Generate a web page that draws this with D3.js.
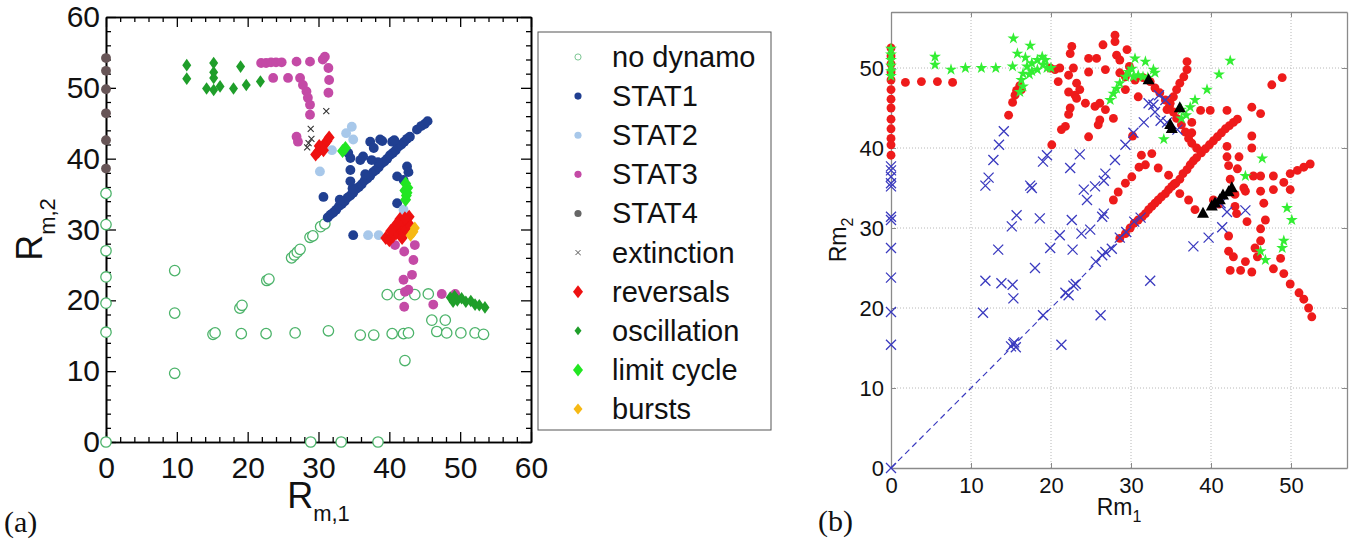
<!DOCTYPE html>
<html><head><meta charset="utf-8">
<script src="https://cdn.jsdelivr.net/npm/d3@7"></script>
<style>body{margin:0;background:#fff;}svg{display:block;}</style>
</head><body><svg id="c" width="1354" height="540"></svg>
<script>
// ---------- Panel (a) data ----------
const aMajorTicks=[0,10,20,30,40,50,60];
const aMinorTicks=[2,4,6,8,12,14,16,18,22,24,26,28,32,34,36,38,42,44,46,48,52,54,56,58];
const legendLabels=["no dynamo","STAT1","STAT2","STAT3","STAT4","extinction","reversals","oscillation","limit cycle","bursts"];
const noDynamo=[[0,0],[0,15.5],[0,19.6],[0,23.3],[0,27],[0,30.7],[0,35.1],[28.9,0],[33.2,0],[38.4,0],
[9.7,24.2],[9.7,18.2],[9.7,9.7],[18.9,18.9],[19.2,19.3],[22.7,22.8],[23.0,23.0],[26.2,26.0],[26.6,26.4],[27.0,26.8],[27.4,27.2],[28.8,28.9],[29.2,29.1],[30.3,30.4],[30.9,30.8],
[15.1,15.2],[15.4,15.4],[19.1,15.3],[22.6,15.3],[26.7,15.4],[31.4,15.7],[35.9,15.1],[37.8,15.1],[40.4,15.3],[42.0,15.3],[42.7,15.4],[46.7,15.6],[48.1,15.4],[50.1,15.4],[52.1,15.4],[53.3,15.2],
[42.2,11.5],[39.7,20.8],[41.4,20.8],[43.6,20.8],[45.5,20.9],[46.0,17.2],[47.9,17.2]];
const stat1=[[31.3,31.7],[31.7,32.1],[32.1,32.4],[32.5,32.8],[32.9,33.3],[33.3,33.6],[33.7,34.0],[34.1,34.5],[34.5,34.8],[34.9,35.2],[35.3,35.7],[35.7,36.0],[36.1,36.4],[36.5,36.9],[36.9,37.2],[37.3,37.6],[37.7,38.1],[38.1,38.4],[38.5,38.8],[38.9,39.3],[39.3,39.6],[39.7,40.0],[40.1,40.5],[40.5,40.8],[40.9,41.2],[41.3,41.7],[41.7,42.0],[42.1,42.4],[42.5,42.8],[42.9,43.1],
[33.0,34.2],[34.8,35.8],[36.6,37.8],[38.4,39.5],
[43.9,44.1],[44.5,44.6],[45.0,44.9],[45.4,45.3],
[40.4,42.4],[38.7,42.7],[37.3,42.4],[37.8,41.5],[35.9,39.8],[34.5,40.1],[34.2,40.8],[36.3,40.3],[34.5,38.4],[34.5,36.8],[30.7,34.6],[34.9,29.2],[42.5,38.9],[42.7,38.1],[41.1,37.5],[41.1,33.7],[42.0,37.0],[40.7,42.6],[39.0,42.5],[37.5,39.8]];
const stat2=[[34.7,44.5],[34.9,42.7],[31.9,41.2],[30.2,38.2],[37.0,29.2],[38.5,29.2],[42.0,32.8],[33.9,43.6]];
const stat3=[[21.9,53.5],[22.6,53.5],[23.3,53.6],[24.0,53.6],[24.8,53.6],[26.9,53.7],[28.8,53.7],[30.6,54.0],[30.9,54.4],[31.4,52.8],[31.5,51.1],[31.4,49.3],
[23.6,51.4],[25.7,51.4],[27.4,51.4],[27.8,50.4],[28.3,49.5],[28.5,48.6],[28.8,47.6],[28.8,46.2],[26.9,43.1],[27.1,42.4],
[40.8,27.8],[42.1,26.9],[43.6,27.8],[43.4,25.7],[42.0,22.9],[43.2,23.6],[42.2,21.2],[42.7,21.5],[42.1,19.1],[46.2,19.4],[47.4,20.9],[49.3,20.9]];
const stat4=[[0,54.2],[0,52.4],[0,49.8],[0,46.4],[0,42.6],[0,38.6]];
const extinction=[[31.1,46.7],[28.9,44.2],[29.0,42.8],[28.4,41.6],[28.6,42.2]];
const reversals=[[29.6,40.6],[30.0,41.0],[30.4,41.5],[30.8,42.0],[31.2,42.5],[31.5,43.0],[30.1,41.8],[30.7,41.2],
[39.5,28.8],[40.0,28.5],[40.5,29.0],[41.0,29.5],[41.5,30.0],[42.0,30.5],[42.5,31.0],[42.8,31.8],[41.5,31.5],[40.8,30.5],[42.0,29.5],[40.2,29.8],[41.8,28.8],[42.4,30.0],[43.0,30.5],[41.2,30.9],[42.2,31.6]];
const oscillation=[[11.4,53.2],[11.4,51.3],[15.2,53.5],[15.2,51.4],[14.2,49.9],[15.2,49.7],[16.1,50.2],[18.0,49.9],[19.0,53.0],[19.8,50.4],[21.8,50.9],[15.2,52.2],
[48.6,20.4],[49.2,20.6],[49.6,20.0],[50.2,20.3],[50.8,19.8],[51.5,19.9],[52.1,19.4],[52.7,19.3],[53.5,19.0],[49.0,19.8]];
const limitCycle=[[33.4,41.1],[33.8,41.5],[42.3,36.5],[42.2,35.5],[42.4,34.8],[42.3,34.2],[42.6,35.9],[42.5,35.2]];
const bursts=[[43.4,29.7],[43.0,29.2],[43.6,30.2]];

// ---------- Panel (b) data ----------
const bTicks=[0,10,20,30,40,50];
const bGrid=[10,20,30,40,50];
const bRed=[[0,52.5],[0,51.5],[0,50.5],[0,49.5],[0,48.5],[0,47.3],[0,46.1],[0,45.0],[0,43.6],[0,42.4],[0,41.2],[0,40.4],[0,39.1],
[1.8,48.2],[3.8,48.3],[5.8,48.3],[7.7,48.2],
[14.7,44.1],[15.2,45.7],[15.5,46.6],[15.7,47.2],[16.3,47.3],[16.1,47.8],
[20.1,40.4],[19.9,50.0],[20.5,49.8],[21.1,50.0],[20.9,48.3],[22.2,49.1],[22.4,51.8],[22.6,52.7],[22.8,50.0],[22.2,47.0],[23.0,46.6],[23.2,46.2],[22.4,45.0],[22.2,44.2],[21.3,42.3],[21.8,42.7],[23.2,48.1],[23.6,47.3],[24.7,51.2],[24.7,49.5],[24.3,45.6],[24.7,41.4],[25.7,51.2],[25.5,45.2],[26.1,45.6],[26.5,52.9],[26.8,49.8],[26.8,44.8],[26.1,43.5],[25.9,42.9],[27.8,43.7],[28.0,54.1],[28.0,53.3],[28.2,51.6],[28.6,51.0],[29.5,52.3],[28.6,49.4],[29.3,48.9],[29.3,47.3],
[30.9,46.4],[30.2,41.5],[30.5,48.5],[31.5,48.8],[29.8,50.2],
[32.4,48.3],[33.0,47.5],[33.6,46.9],[34.3,46.0],[34.8,45.2],[35.3,44.5],[35.7,43.7],[36.3,42.9],[36.8,42.0],[37.2,41.2],[37.6,40.6],[38.2,40.0],[38.7,39.6],
[34.5,44.8],[34.9,45.6],[35.3,46.4],[35.7,47.3],[36.1,48.1],[36.6,48.9],[37.0,49.8],[37.0,50.8],
[38.7,44.7],[39.9,44.7],[42.0,44.7],[37.6,43.2],[37.6,41.9],
[31.3,39.1],[32.6,39.3],[31.8,37.9],[31.0,37.6],[30.1,36.4],[29.3,35.6],[28.4,34.5],[27.8,33.5],
[33.4,37.5],[34.7,36.6],[35.4,35.5],[36.1,34.3],[37.2,33.5],[38.0,32.3],
[28.6,28.7],[29.3,29.3],[29.9,30.0],[30.4,30.6],[30.9,31.0],[31.4,31.4],[31.8,31.8],[32.2,32.3],[32.6,32.7],[33.0,33.1],[33.4,33.5],[33.8,33.9],[34.3,34.3],[34.7,34.8],[35.1,35.2],[35.6,35.6],[36.1,36.1],[36.5,36.8],[37.0,37.3],[37.4,37.9],[37.8,38.4],[38.2,38.8],[38.8,39.4],[39.3,39.9],[39.8,40.4],[40.3,40.9],[40.8,41.4],[41.3,41.9],[41.8,42.4],[42.3,42.8],[42.8,43.2],[43.3,43.6],
[42.0,40.2],[42.0,38.9],[42.2,37.8],[42.4,36.1],[43.0,34.2],[43.0,32.7],[43.5,38.9],[43.3,37.4],[44.1,35.0],[44.3,34.6],[45.3,36.5],[45.1,40.0],[45.1,41.5],[45.1,45.1],[46.2,44.3],[47.6,47.9],[48.9,48.8],
[46.2,36.5],[46.2,34.6],[46.6,33.1],[46.8,31.0],[46.2,29.9],[46.2,28.4],[45.5,27.5],[45.8,26.4],[45.1,24.5],[43.7,24.7],[42.4,24.7],[42.2,27.1],[42.8,26.4],[42.2,29.0],[43.2,31.8],[44.5,30.8],
[47.8,34.8],[47.8,36.5],[49.1,35.7],[49.9,36.8],[49.9,34.8],[50.8,37.2],[51.6,37.6],[52.4,38.0],
[48.7,26.2],[47.8,24.9],[49.1,24.3],[49.9,23.0],[51.0,21.9],[51.6,21.1],[52.2,20.0],[52.6,18.9],[44.3,25.8],[40.3,33.5],[41.0,33.0]];
const bGreen=[[0,52.4],[0,51.7],[0,51.0],[0,50.3],[0,49.6],[0,49.0],
[5.5,51.4],[5.5,50.4],[7.5,49.8],[9.3,50.0],[11.3,50.0],[13.1,50.0],[15.2,50.2],[15.3,53.7],[15.8,51.8],[17.4,52.8],[16.8,51.3],
[16.5,49.3],[16.3,48.5],[16.5,47.7],[16.1,47.0],[17.0,50.2],[17.6,50.6],[18.3,51.0],[18.9,51.4],[19.0,50.4],[18.3,49.8],[19.5,50.0],[17.6,49.6],[17.3,49.2],[19.3,51.0],[20.0,50.0],
[27.4,46.0],[27.8,46.8],[28.2,47.4],[28.6,48.1],[29.3,48.9],[29.7,49.5],[30.1,49.9],[30.5,51.2],[30.3,48.9],[30.9,49.1],[31.5,48.9],[31.8,50.8],[32.8,49.8],[33.0,49.4],[32.1,48.8],
[36.3,44.8],[36.3,43.7],[36.9,44.1],[37.4,45.1],[38.0,46.0],[39.5,47.3],[41.0,49.2],[42.4,50.9],[34.1,41.1],
[44.3,36.5],[46.4,38.7],[49.5,32.5],[50.1,31.0],[49.1,28.4],[48.9,27.5],[46.2,27.1],[46.8,26.0]];
const bBlue=[[0,0],[0,37.7],[0,37.2],[0,36.4],[0,35.6],[0,35.2],[0,31.4],[0,31.0],[0,27.5],[0,23.8],[0,19.5],[0,15.4],
[14.1,42.1],[13.5,40.4],[12.8,38.5],[12.2,36.3],[11.8,35.3],[15.7,31.6],[15.1,30.2],[13.4,27.3],[11.8,23.4],[13.8,23.1],[15.2,22.9],[15.3,21.2],[11.5,19.4],[17.6,35.0],[17.4,35.3],[18.6,31.2],[18.0,25.0],[19.0,38.3],[19.5,39.1],[19.9,27.5],[21.1,29.1],[21.3,15.4],[22.4,37.5],[22.6,31.0],[22.7,27.3],[23.6,39.2],[24.1,34.8],[24.5,33.5],[23.8,29.3],[24.9,29.8],[25.5,35.2],[26.6,35.9],[26.8,36.8],[26.6,31.8],[26.4,31.4],[28.0,38.5],[29.3,40.4],[30.3,41.9],[31.6,43.2],[32.2,45.6],[32.8,45.4],[33.5,46.6],[33.0,44.5],[33.7,43.4],[34.5,43.2],[35.8,42.3],[34.3,46.0],
[37.8,27.7],[39.7,28.8],[41.4,30.1],[42.0,32.0],[44.3,32.2],[41.2,33.1],[32.4,23.4],[26.2,19.1],
[15.0,15.2],[15.3,15.5],[15.6,15.1],[15.4,15.7],[19.0,19.1],[21.8,21.9],[22.2,21.6],[22.8,22.8],[23.1,23.0],[25.6,25.8],[26.4,26.6],[26.8,27.0],[27.6,27.4],[28.6,28.8],[29.4,29.5],[30.4,30.8],[31.2,31.3]];
const bBlack=[[32.2,48.5],[36.1,45.0],[34.9,42.9],[35.1,42.4],[39.0,31.8],[40.1,32.7],[40.5,33.1],[41.1,33.5],[41.5,34.1],[42.2,34.5],[42.6,35.0]];
const bDiag=[[0,0],[33,33]];

// ---------- drawing ----------
const SANS='"Liberation Sans", Arial, Helvetica, sans-serif';
const svg=d3.select('#c');
const diamond=(hw,hh)=>`M0,${-hh}L${hw},0L0,${hh}L${-hw},0Z`;
const cross=s=>`M${-s},${-s}L${s},${s}M${-s},${s}L${s},${-s}`;
const tri=(w,h)=>`M0,${-h*0.62}L${w},${h*0.38}L${-w},${h*0.38}Z`;

// Panel A
const xA=d3.scaleLinear().domain([0,60]).range([106,531]);
const yA=d3.scaleLinear().domain([0,60]).range([442,17]);
const gA=svg.append('g');

function styleAxis(g,color,fs,w){
  g.select('.domain').attr('stroke',color).attr('stroke-width',w);
  g.selectAll('.tick line').attr('stroke',color).attr('stroke-width',w*0.8);
  g.selectAll('.tick text').attr('fill','#111').style('font-family',SANS).style('font-size',fs+'px');
}
function axesA(){
  const defs=[
    ['b',d3.axisBottom(xA),`translate(0,${yA(0)})`,true],
    ['t',d3.axisTop(xA),`translate(0,${yA(60)})`,false],
    ['l',d3.axisLeft(yA),`translate(${xA(0)},0)`,true],
    ['r',d3.axisRight(yA),`translate(${xA(60)},0)`,false]];
  defs.forEach(([k,ax,tr,lab])=>{
    const gm=gA.append('g').attr('transform',tr).call(ax.tickValues(aMinorTicks).tickSize(-5).tickSizeOuter(0).tickFormat(''));
    styleAxis(gm,'#000',30,1.6);
    const ax2=(k==='b'?d3.axisBottom(xA):k==='t'?d3.axisTop(xA):k==='l'?d3.axisLeft(yA):d3.axisRight(yA));
    const g2=gA.append('g').attr('transform',tr).call(ax2.tickValues(aMajorTicks).tickSize(-10).tickSizeOuter(0)
      .tickPadding(k==='b'?15:6).tickFormat(lab?d3.format('d'):''));
    styleAxis(g2,'#000',30,1.6);
  });
}
axesA();

const ptsA=gA.append('g');
function drawA(data,fn){return ptsA.append('g').selectAll('path').data(data).join('path')
  .attr('transform',d=>`translate(${xA(d[0])},${yA(d[1])})`).call(fn);}
drawA(noDynamo,s=>s.attr('d',d3.symbol(d3.symbolCircle,85)).attr('fill','#fff').attr('stroke','#4cb36a').attr('stroke-width',1.3));
drawA(stat1,s=>s.attr('d',d3.symbol(d3.symbolCircle,76)).attr('fill','#203f91'));
drawA(stat2,s=>s.attr('d',d3.symbol(d3.symbolCircle,76)).attr('fill','#a8c8ea'));
drawA(stat3,s=>s.attr('d',d3.symbol(d3.symbolCircle,76)).attr('fill','#c44aa6'));
drawA(stat4,s=>s.attr('d',d3.symbol(d3.symbolCircle,76)).attr('fill','#675557'));
drawA(extinction,s=>s.attr('d',cross(3)).attr('fill','none').attr('stroke','#333').attr('stroke-width',1.1));
drawA(reversals,s=>s.attr('d',diamond(5.5,7)).attr('fill','#ee1111'));
drawA(oscillation,s=>s.attr('d',diamond(4.5,6.3)).attr('fill','#1f9e2a'));
drawA(limitCycle,s=>s.attr('d',diamond(5.5,7)).attr('fill','#22e622'));
drawA(bursts,s=>s.attr('d',diamond(5,6.5)).attr('fill','#f6b914'));

// Axis labels A
const xl=gA.append('text').attr('x',(xA(0)+xA(60))/2).attr('y',508).attr('text-anchor','middle')
  .style('font-family',SANS).attr('fill','#111');
xl.append('tspan').text('R').style('font-size','36px');
xl.append('tspan').text('m,1').style('font-size','22px').attr('dy',13);
const yl=gA.append('text').attr('transform',`translate(42,${(yA(0)+yA(60))/2}) rotate(-90)`).attr('text-anchor','middle')
  .style('font-family',SANS).attr('fill','#111');
yl.append('tspan').text('R').style('font-size','36px');
yl.append('tspan').text('m,2').style('font-size','22px').attr('dy',13);
svg.append('text').attr('x',4).attr('y',532).text('(a)').style('font-family','"Liberation Serif","DejaVu Serif",serif').style('font-size','30px').attr('fill','#111');

// Legend
const leg=svg.append('g');
leg.append('rect').attr('x',538).attr('y',32).attr('width',233).attr('height',398).attr('fill','#fff').attr('stroke','#555').attr('stroke-width',1);
const legY=d3.scalePoint().domain(legendLabels).range([57,409]);
const legSym={
  'no dynamo':s=>s.attr('d',d3.symbol(d3.symbolCircle,30)).attr('fill','#fff').attr('stroke','#7cc693').attr('stroke-width',1),
  'STAT1':s=>s.attr('d',d3.symbol(d3.symbolCircle,40)).attr('fill','#203f91'),
  'STAT2':s=>s.attr('d',d3.symbol(d3.symbolCircle,40)).attr('fill','#a8c8ea'),
  'STAT3':s=>s.attr('d',d3.symbol(d3.symbolCircle,40)).attr('fill','#c44aa6'),
  'STAT4':s=>s.attr('d',d3.symbol(d3.symbolCircle,40)).attr('fill','#666'),
  'extinction':s=>s.attr('d',cross(2.5)).attr('fill','none').attr('stroke','#555').attr('stroke-width',1),
  'reversals':s=>s.attr('d',diamond(5,6.5)).attr('fill','#ee1111'),
  'oscillation':s=>s.attr('d',diamond(3.5,4.5)).attr('fill','#1f9e2a'),
  'limit cycle':s=>s.attr('d',diamond(5,6.5)).attr('fill','#22e622'),
  'bursts':s=>s.attr('d',diamond(4.5,5.5)).attr('fill','#f6b914')};
legendLabels.forEach(l=>{
  leg.append('path').attr('transform',`translate(578,${legY(l)})`).call(legSym[l]);
  leg.append('text').attr('x',612).attr('y',legY(l)+10).text(l).style('font-family',SANS).style('font-size','29px').attr('fill','#111');
});

// Panel B
const xB=d3.scaleLinear().domain([0,57]).range([891,1347]);
const yB=d3.scaleLinear().domain([0,57]).range([468,12]);
const gB=svg.append('g');
gB.append('g').selectAll('line').data(bGrid).join('line').attr('x1',d=>xB(d)).attr('x2',d=>xB(d)).attr('y1',yB(0)).attr('y2',yB(57))
  .attr('stroke','#b8b8b8').attr('stroke-width',1).attr('stroke-dasharray','1,2');
gB.append('g').selectAll('line').data(bGrid).join('line').attr('y1',d=>yB(d)).attr('y2',d=>yB(d)).attr('x1',xB(0)).attr('x2',xB(57))
  .attr('stroke','#b8b8b8').attr('stroke-width',1).attr('stroke-dasharray','1,2');
[['b',d3.axisBottom(xB),`translate(0,${yB(0)})`,true],['t',d3.axisTop(xB),`translate(0,${yB(57)})`,false],
 ['l',d3.axisLeft(yB),`translate(${xB(0)},0)`,true],['r',d3.axisRight(yB),`translate(${xB(57)},0)`,false]].forEach(([k,ax,tr,lab])=>{
  const g=gB.append('g').attr('transform',tr).call(ax.tickValues(bTicks).tickSize(-5).tickSizeOuter(0).tickPadding(k==='b'?9:7).tickFormat(lab?d3.format('d'):''));
  styleAxis(g,'#8a8a8a',22,1.3);
});
gB.append('line').attr('x1',xB(bDiag[0][0])).attr('y1',yB(bDiag[0][1])).attr('x2',xB(bDiag[1][0])).attr('y2',yB(bDiag[1][1]))
  .attr('stroke','#3a3abf').attr('stroke-width',1.2).attr('stroke-dasharray','6,4');
function drawB(data,fn){return gB.append('g').selectAll('path').data(data).join('path')
  .attr('transform',d=>`translate(${xB(d[0])},${yB(d[1])})`).call(fn);}
drawB(bRed,s=>s.attr('d',d3.symbol(d3.symbolCircle,62)).attr('fill','#ee1b1b'));
drawB(bGreen,s=>s.attr('d',d3.symbol(d3.symbolStar,44)).attr('fill','#33ee33'));
drawB(bBlue,s=>s.attr('d',cross(5)).attr('fill','none').attr('stroke','#3a3abf').attr('stroke-width',1.3));
drawB(bBlack,s=>s.attr('d',tri(6,11)).attr('fill','#000'));

const bxl=gB.append('text').attr('x',(xB(0)+xB(57))/2).attr('y',515).attr('text-anchor','middle').style('font-family',SANS).attr('fill','#111');
bxl.append('tspan').text('Rm').style('font-size','23px');
bxl.append('tspan').text('1').style('font-size','16px').attr('dy',7);
const byl=gB.append('text').attr('transform',`translate(846,${(yB(0)+yB(57))/2}) rotate(-90)`).attr('text-anchor','middle').style('font-family',SANS).attr('fill','#111');
byl.append('tspan').text('Rm').style('font-size','23px');
byl.append('tspan').text('2').style('font-size','16px').attr('dy',7);
svg.append('text').attr('x',818).attr('y',531).text('(b)').style('font-family','"Liberation Serif","DejaVu Serif",serif').style('font-size','30px').attr('fill','#111');
</script></body></html>
